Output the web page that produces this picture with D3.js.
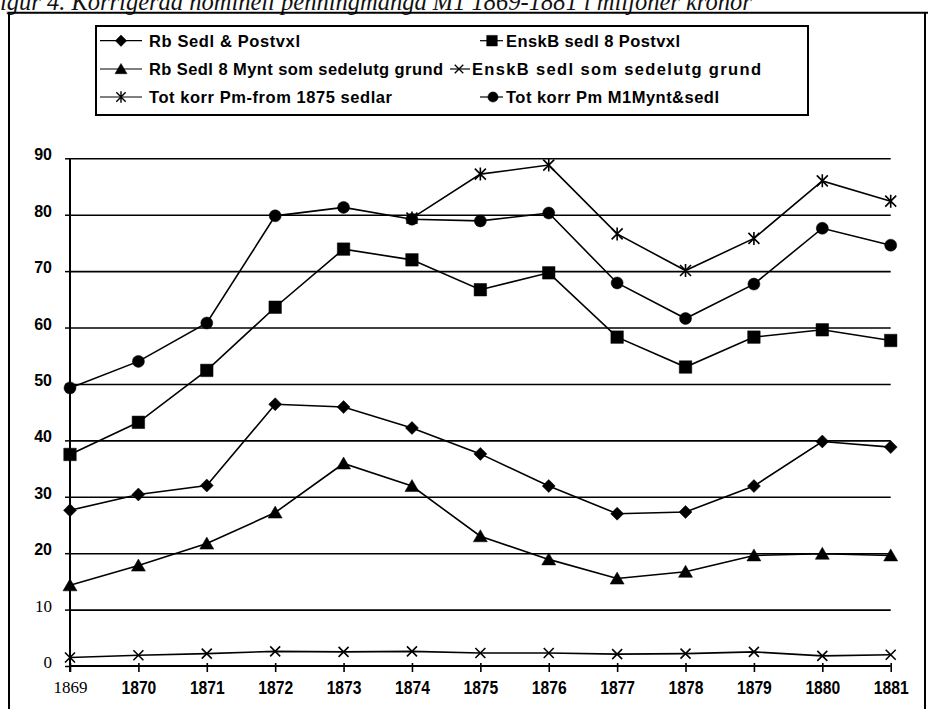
<!DOCTYPE html>
<html>
<head>
<meta charset="utf-8">
<script src="https://cdn.jsdelivr.net/npm/d3@7"></script>
<style>
  body { margin: 0; background: #fff; }
  svg { display: block; }
</style>
</head>
<body>
<svg id="chart" width="928" height="709"></svg>
<script>
// Nominal money supply M1, 1869-1881, million kronor
const years = [1869, 1870, 1871, 1872, 1873, 1874, 1875, 1876, 1877, 1878, 1879, 1880, 1881];
const rbSedlPostvxl   = [27.6, 30.4, 32.0, 46.4, 45.9, 42.2, 37.6, 31.9, 27.0, 27.3, 31.9, 39.8, 38.8];
const enskbSedlPostvxl = [37.5, 43.2, 52.4, 63.6, 73.9, 72.0, 66.7, 69.7, 58.3, 53.0, 58.3, 59.6, 57.7];
const rbSedlMynt      = [14.3, 17.8, 21.7, 27.2, 35.9, 31.9, 23.0, 18.9, 15.5, 16.7, 19.6, 19.9, 19.6];
const enskbSedlGrund  = [1.5, 1.9, 2.2, 2.6, 2.5, 2.6, 2.3, 2.3, 2.1, 2.2, 2.5, 1.8, 2.0];
const totKorrFrom1875 = [null, null, null, null, null, 79.4, 87.2, 88.8, 76.6, 70.1, 75.8, 86.0, 82.4];
const totKorrM1       = [49.3, 54.0, 60.8, 79.8, 81.3, 79.2, 78.9, 80.3, 67.9, 61.6, 67.7, 77.6, 74.6];

const yTicks = [0, 10, 20, 30, 40, 50, 60, 70, 80, 90];
const xTickLabels = ["1869", "1870", "1871", "1872", "1873", "1874", "1875", "1876", "1877", "1878", "1879", "1880", "1881"];

const seriesNames = [
  "Rb Sedl & Postvxl",
  "EnskB sedl 8 Postvxl",
  "Rb Sedl 8 Mynt som sedelutg grund",
  "EnskB sedl som sedelutg grund",
  "Tot korr Pm-from 1875 sedlar",
  "Tot korr Pm M1Mynt&sedl"
];
const seriesMarkers = ["diamond", "square", "triangle", "x", "star", "circle"];
const seriesValues = [rbSedlPostvxl, enskbSedlPostvxl, rbSedlMynt, enskbSedlGrund, totKorrFrom1875, totKorrM1];

const titleText = "Figur 4. Korrigerad nominell penningmängd M1 1869-1881 i miljoner kronor";

// ---- layout ----
const W = 928, H = 709;
const plot = { left: 70, right: 890.7, top: 158.3, bottom: 666 };
const SANS = "'Liberation Sans', Arial, Helvetica, sans-serif";
const SERIF = "'Liberation Serif', 'Times New Roman', serif";

const svg = d3.select("#chart");

const x = d3.scaleLinear().domain([years[0], years[years.length - 1]]).range([plot.left, plot.right]);
const y = d3.scaleLinear().domain([0, 90]).range([plot.bottom, plot.top]);

// marker path generator (s = nominal width in px)
function markerPath(type, s) {
  const h = s / 2;
  const p = d3.path();
  switch (type) {
    case "circle":
      p.arc(0, 0, h, 0, 2 * Math.PI); break;
    case "square":
      p.rect(-h, -h, s, s); break;
    case "diamond":
      p.moveTo(0, -h - 1); p.lineTo(h + 1, 0); p.lineTo(0, h + 1); p.lineTo(-h - 1, 0); p.closePath(); break;
    case "triangle":
      p.moveTo(0, -h); p.lineTo(h + 0.5, h * 0.85); p.lineTo(-h - 0.5, h * 0.85); p.closePath(); break;
    case "x":
      p.moveTo(-h, -h); p.lineTo(h, h); p.moveTo(h, -h); p.lineTo(-h, h); break;
    case "star":
      p.moveTo(-h, -h); p.lineTo(h, h); p.moveTo(h, -h); p.lineTo(-h, h);
      p.moveTo(0, -h - 1); p.lineTo(0, h + 1); break;
  }
  return p.toString();
}
const isStroked = t => t === "x" || t === "star";
const markerSize = { circle: 12, square: 12.5, diamond: 11, triangle: 13, x: 10, star: 11 };

// ---- outer frame and title ----
svg.append("text")
  .attr("x", -15).attr("y", 10)
  .attr("font-family", SERIF).attr("font-style", "italic")
  .attr("font-size", 24.5)
  .attr("fill", "#111")
  .text(titleText);

svg.append("path")
  .attr("d", `M9,${H + 5} V12.7 H${W + 5}`)
  .attr("fill", "none").attr("stroke", "#000").attr("stroke-width", 2);
svg.append("line")
  .attr("x1", 925).attr("x2", 925).attr("y1", 12.7).attr("y2", H + 5)
  .attr("stroke", "#000").attr("stroke-width", 2);

// ---- legend ----
const legendBox = { left: 96, right: 808, top: 26, bottom: 115 };
svg.append("rect")
  .attr("x", legendBox.left).attr("y", legendBox.top)
  .attr("width", legendBox.right - legendBox.left).attr("height", legendBox.bottom - legendBox.top)
  .attr("fill", "#fff").attr("stroke", "#000").attr("stroke-width", 2);

const legendRowsY = [40.7, 69, 97];
// [row, lineStart, lineEnd, markerX, textX, textWidth] per series
const legendSlots = [
  [0, 100, 142, 121, 149, 151],
  [0, 480, 503, 492, 506, 174],
  [1, 100, 142, 121, 149, 294],
  [1, 450, 470, 459, 472, 289],
  [2, 100, 142, 121, 149, 243],
  [2, 480, 503, 493, 506, 213]
];
const legend = svg.append("g");
seriesNames.forEach((name, i) => {
  const [row, x1, x2, mx, tx, tw] = legendSlots[i];
  const cy = legendRowsY[row];
  const t = seriesMarkers[i];
  legend.append("line").attr("x1", x1).attr("x2", x2).attr("y1", cy).attr("y2", cy)
    .attr("stroke", "#000").attr("stroke-width", 1.2);
  legend.append("path")
    .attr("d", markerPath(t, markerSize[t] * 0.85))
    .attr("transform", `translate(${mx},${cy})`)
    .attr("fill", isStroked(t) ? "none" : "#000")
    .attr("stroke", "#000").attr("stroke-width", isStroked(t) ? 1.4 : 0.5);
  legend.append("text")
    .attr("x", tx).attr("y", cy).attr("dy", "0.36em")
    .attr("font-family", SANS).attr("font-weight", "bold").attr("font-size", 16.5)
    .attr("textLength", tw).attr("lengthAdjust", "spacing")
    .attr("fill", "#000")
    .text(name);
});

// ---- gridlines ----
svg.append("g")
  .attr("transform", `translate(${plot.left},0)`)
  .call(d3.axisLeft(y).tickValues(yTicks.filter(v => v > 0)).tickSize(-(plot.right - plot.left)).tickFormat(""))
  .call(g => g.select(".domain").remove())
  .call(g => g.selectAll("line").attr("stroke", "#000").attr("stroke-width", 1.6));

// ---- y axis ----
svg.append("g")
  .attr("transform", `translate(${plot.left},0)`)
  .call(d3.axisLeft(y).tickValues(yTicks).tickSize(5).tickPadding(13).tickFormat(d3.format("d")))
  .call(g => g.select(".domain").attr("d", `M0,${plot.top}V${plot.bottom + 6}`).attr("stroke", "#000").attr("stroke-width", 2))
  .call(g => g.selectAll(".tick line").attr("stroke", "#000").attr("stroke-width", 1.5))
  .call(g => g.selectAll(".tick text")
    .attr("fill", "#000")
    .attr("dy", "0.1em")
    .attr("font-family", d => d <= 10 ? SERIF : SANS)
    .attr("font-weight", d => d <= 10 ? "normal" : "bold")
    .attr("font-size", d => d <= 10 ? 17 : 16));

// ---- x axis ----
svg.append("g")
  .attr("transform", `translate(0,${plot.bottom})`)
  .call(d3.axisBottom(x).tickValues(years).tickSize(6).tickPadding(9).tickFormat((d, i) => xTickLabels[i]))
  .call(g => g.select(".domain").attr("d", `M${plot.left},0H${plot.right}`).attr("stroke", "#000").attr("stroke-width", 2))
  .call(g => g.selectAll(".tick line").attr("y1", -3).attr("stroke", "#000").attr("stroke-width", 1.6))
  .call(g => g.selectAll(".tick text")
    .attr("fill", "#000")
    .attr("font-family", (d, i) => i === 0 ? SERIF : SANS)
    .attr("font-weight", (d, i) => i === 0 ? "normal" : "bold")
    .attr("font-size", (d, i) => i === 0 ? 17 : 18)
    .attr("transform", (d, i) => i === 0 ? null : "scale(0.87,1)"));

// ---- series ----
const line = d3.line()
  .defined(d => d.v != null)
  .x(d => x(d.year))
  .y(d => y(d.v));

seriesValues.forEach((vals, i) => {
  const pts = years.map((year, j) => ({ year, v: vals[j] }));
  const g = svg.append("g").attr("class", "series");
  g.append("path")
    .attr("d", line(pts))
    .attr("fill", "none").attr("stroke", "#000").attr("stroke-width", 1.6);
  const t = seriesMarkers[i];
  g.selectAll("path.mk")
    .data(pts.filter(d => d.v != null))
    .join("path")
    .attr("class", "mk")
    .attr("d", markerPath(t, markerSize[t]))
    .attr("transform", d => `translate(${x(d.year)},${y(d.v)})`)
    .attr("fill", isStroked(t) ? "none" : "#000")
    .attr("stroke", "#000").attr("stroke-width", isStroked(t) ? 1.6 : 0.5);
});
</script>
</body>
</html>
